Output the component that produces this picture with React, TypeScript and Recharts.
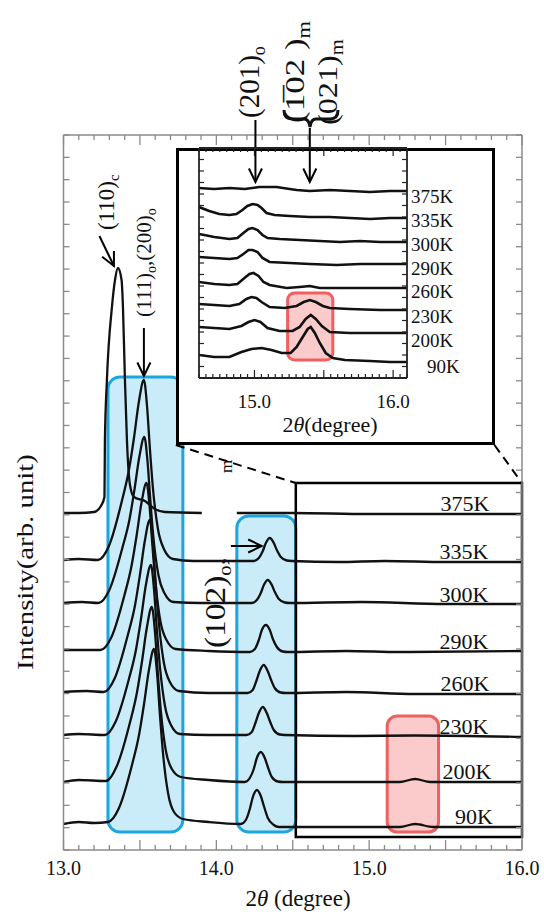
import React from 'react';
import { LineChart, Line, XAxis, YAxis, ReferenceArea, ReferenceLine } from 'recharts';

type Pt = [number, number | null];

// main panel: 2θ (degree) vs intensity (arb. unit), one trace per temperature
const temps = ['375K', '335K', '300K', '290K', '260K', '230K', '200K', '90K'];

const main375: Pt[] = [
  [13.0, 337], [13.1, 337], [13.2, 338], [13.245, 344], [13.268, 353], [13.271, 410], [13.284, 470],
  [13.317, 543], [13.337, 570], [13.356, 582], [13.38, 570], [13.389, 543], [13.402, 470], [13.415, 410],
  [13.435, 365], [13.461, 353], [13.533, 349], [13.598, 341], [13.663, 338], [13.905, 337], [13.92, null],
  [14.134, 337], [14.5, 337], [15.0, 336], [15.5, 336], [16.0, 336],
];
const main335: Pt[] = [
  [13.0, 290], [13.1, 291], [13.225, 290], [13.297, 304], [13.382, 349], [13.428, 380], [13.461, 412],
  [13.493, 448], [13.526, 470], [13.546, 445], [13.565, 402], [13.585, 362], [13.618, 321], [13.657, 301],
  [13.716, 291], [13.85, 289], [14.245, 289], [14.278, 292], [14.304, 299], [14.324, 307], [14.35, 312],
  [14.376, 307], [14.396, 300], [14.422, 293], [14.461, 289.5], [14.494, 289], [14.8, 288], [15.1, 289],
  [15.5, 288], [16.0, 288],
];
const main300: Pt[] = [
  [13.0, 247], [13.12, 248], [13.228, 247], [13.3, 260], [13.385, 302], [13.431, 330], [13.464, 360],
  [13.496, 393], [13.529, 413], [13.549, 390], [13.568, 350], [13.588, 313], [13.621, 275], [13.66, 257],
  [13.719, 248], [13.9, 247], [14.232, 247], [14.265, 250], [14.291, 257], [14.311, 265], [14.337, 270],
  [14.363, 265], [14.383, 258], [14.409, 251], [14.448, 247.5], [14.481, 247], [14.95, 248], [15.5, 246],
  [16.0, 246],
];
const main290: Pt[] = [
  [13.0, 200], [13.1, 200], [13.242, 200], [13.314, 213], [13.399, 255], [13.445, 284], [13.478, 314],
  [13.51, 347], [13.543, 367], [13.563, 344], [13.582, 304], [13.602, 267], [13.635, 228], [13.674, 210],
  [13.733, 201], [13.95, 199], [14.219, 198], [14.252, 201], [14.278, 210], [14.298, 220], [14.324, 225],
  [14.35, 220], [14.37, 211], [14.396, 203], [14.435, 198.5], [14.468, 198], [14.85, 199], [15.2, 198],
  [16.0, 199],
];
const main260: Pt[] = [
  [13.0, 158], [13.15, 159], [13.264, 158], [13.336, 172], [13.421, 215], [13.467, 244], [13.5, 275],
  [13.532, 309], [13.565, 330], [13.585, 306], [13.604, 265], [13.624, 227], [13.657, 187], [13.696, 168],
  [13.755, 159], [13.95, 157], [14.205, 157], [14.238, 160], [14.264, 170], [14.284, 179], [14.31, 185],
  [14.336, 179], [14.356, 171], [14.382, 162], [14.421, 157.5], [14.454, 157], [14.85, 158], [15.3, 156],
  [16.0, 156],
];
const main230: Pt[] = [
  [13.0, 115], [13.1, 116], [13.271, 115], [13.343, 129], [13.428, 171], [13.474, 200], [13.507, 231],
  [13.539, 265], [13.572, 285], [13.592, 261], [13.611, 220], [13.631, 183], [13.664, 144], [13.703, 125],
  [13.762, 116], [13.95, 115], [14.199, 115], [14.232, 118], [14.258, 128], [14.278, 137], [14.304, 143],
  [14.33, 137], [14.35, 129], [14.376, 120], [14.415, 115.5], [14.448, 115], [14.9, 114], [15.3, 114.5],
  [16.0, 113],
];
const main200: Pt[] = [
  [13.0, 68], [13.1, 70], [13.277, 69], [13.349, 84], [13.434, 127], [13.48, 157], [13.513, 188],
  [13.545, 222], [13.578, 243], [13.598, 219], [13.617, 177], [13.637, 139], [13.67, 99], [13.709, 81],
  [13.768, 73], [13.95, 70], [14.186, 68], [14.219, 72], [14.245, 81], [14.265, 92], [14.291, 98],
  [14.317, 92], [14.337, 83], [14.363, 73], [14.402, 68.5], [14.435, 68], [15.0, 68], [15.2, 68],
  [15.3, 71], [15.4, 68], [16.0, 68],
];
const main90: Pt[] = [
  [13.0, 26], [13.1, 28], [13.2, 27], [13.291, 28], [13.363, 42], [13.448, 85], [13.494, 115],
  [13.527, 146], [13.559, 180], [13.592, 201], [13.612, 177], [13.631, 135], [13.651, 97], [13.684, 57],
  [13.723, 38], [13.782, 31], [13.95, 28], [14.16, 26], [14.193, 30], [14.219, 41], [14.239, 53],
  [14.265, 60], [14.291, 54], [14.311, 44], [14.337, 32], [14.376, 25], [14.409, 23], [15.0, 23],
  [15.2, 23], [15.3, 26], [15.42, 23], [16.0, 23],
];

// inset: 14.6–16.1 degree
const in375: Pt[] = [
  [14.6, 190], [14.71, 189], [14.819, 190], [14.93, 189], [15.036, 191], [15.159, 191], [15.254, 189],
  [15.304, 188], [15.399, 187], [15.543, 188], [15.688, 187], [15.833, 186], [15.978, 187], [16.1, 187],
];
const in335: Pt[] = [
  [14.6, 171], [14.674, 167], [14.746, 164], [14.819, 163], [14.87, 164], [14.913, 168], [14.949, 172],
  [14.986, 174], [15.022, 173], [15.051, 170], [15.087, 165], [15.145, 163], [15.254, 162], [15.399, 161],
  [15.543, 161], [15.688, 160], [15.833, 159], [15.978, 160], [16.1, 160],
];
const in300: Pt[] = [
  [14.6, 144], [14.71, 141], [14.819, 139], [14.877, 140], [14.92, 145], [14.957, 149], [14.986, 150],
  [15.022, 148], [15.058, 143], [15.094, 140], [15.181, 139], [15.326, 138], [15.471, 137], [15.616, 136],
  [15.761, 137], [15.906, 136], [16.1, 136],
];
const in290: Pt[] = [
  [14.6, 121], [14.71, 120], [14.819, 119], [14.877, 120], [14.92, 124], [14.957, 128], [14.986, 128],
  [15.022, 126], [15.058, 120], [15.109, 116], [15.254, 115], [15.399, 114], [15.594, 113], [15.761, 114],
  [15.906, 114], [16.1, 114],
];
const in260: Pt[] = [
  [14.6, 96], [14.71, 94], [14.819, 93], [14.877, 94], [14.928, 100], [14.964, 104], [14.993, 105],
  [15.029, 102], [15.065, 96], [15.109, 93], [15.232, 90], [15.326, 91], [15.399, 92], [15.471, 90],
  [15.688, 90], [15.906, 90], [16.1, 90],
];
const in230: Pt[] = [
  [14.6, 74], [14.71, 73], [14.819, 72], [14.891, 74], [14.942, 79], [14.978, 81], [15.014, 80],
  [15.051, 76], [15.109, 71], [15.217, 70], [15.304, 72], [15.355, 76], [15.399, 78], [15.442, 76],
  [15.493, 72], [15.543, 70], [15.688, 69], [15.906, 68], [16.1, 68],
];
const in200: Pt[] = [
  [14.6, 51], [14.71, 50], [14.819, 49], [14.906, 52], [14.957, 56], [15.0, 58], [15.043, 56],
  [15.094, 50], [15.181, 47], [15.275, 47], [15.326, 51], [15.369, 59], [15.406, 63], [15.442, 59],
  [15.486, 52], [15.543, 46], [15.688, 45], [15.906, 45], [16.1, 45],
];
const in90: Pt[] = [
  [14.6, 23], [14.71, 21], [14.819, 21], [14.906, 26], [14.978, 29], [15.051, 30], [15.123, 28],
  [15.196, 25], [15.261, 25], [15.304, 31], [15.348, 41], [15.384, 49], [15.406, 51], [15.435, 45],
  [15.471, 35], [15.514, 25], [15.565, 20], [15.652, 18], [15.833, 17], [15.978, 16], [16.1, 16],
];

const mainSeries = [main375, main335, main300, main290, main260, main230, main200, main90];
const insetSeries = [in375, in335, in300, in290, in260, in230, in200, in90];

const mainXTicks = Array.from({ length: 31 }, (_, i) => Math.round((13 + i * 0.1) * 10) / 10);
const mainYTicks = Array.from({ length: 33 }, (_, i) => (i * 715) / 32);
const insetXTicks = Array.from({ length: 31 }, (_, i) => Math.round((14.6 + i * 0.05) * 100) / 100);
const insetYTicks = Array.from({ length: 21 }, (_, i) => i * 11.5);

// layout (page px)
const FONT = '"Liberation Serif", "Times New Roman", serif';
const TXT = { fontFamily: FONT };
const GRAY = '#8a8a8a';
const MAIN = { l: 63.5, r: 522, t: 135, b: 850 };
const INS = { l: 199, r: 407, t: 148, b: 378 };
const mainLabelPos = [[465, 511], [464, 559], [464, 602], [464, 649], [465, 691], [464, 734], [467, 779], [474, 824]];
const insetLabelPos = [[411, 203], [411, 227], [411, 251], [411, 275], [411, 298], [411, 323], [411, 347], [427, 373]];

const rows = (pts: Pt[]) => pts.map(([x, y]) => ({ x, y }));
const isMult = (v: number, step: number) => Math.abs(v / step - Math.round(v / step)) < 1e-6;

const mainBottomTick = (p: any) => {
  const v = p.payload.value;
  return (
    <g>
      <line x1={p.x} x2={p.x} y1={MAIN.b} y2={MAIN.b - (isMult(v, 0.5) ? 10 : 5)} stroke={GRAY} strokeWidth={1.3} />
      {isMult(v, 1) && (
        <text x={p.x} y={875} textAnchor="middle" fontSize={20} style={TXT} fill="#111">{v.toFixed(1)}</text>
      )}
    </g>
  );
};
const mainTopTick = (p: any) => (
  <line x1={p.x} x2={p.x} y1={MAIN.t} y2={MAIN.t + (isMult(p.payload.value, 0.5) ? 10 : 5)} stroke={GRAY} strokeWidth={1.3} />
);
const mainLeftTick = (p: any) => <line x1={MAIN.l} x2={MAIN.l + 6} y1={p.y} y2={p.y} stroke={GRAY} strokeWidth={1.3} />;
const mainRightTick = (p: any) => <line x1={MAIN.r} x2={MAIN.r - 6} y1={p.y} y2={p.y} stroke={GRAY} strokeWidth={1.3} />;

const insBottomTick = (p: any) => {
  const v = p.payload.value;
  return (
    <g>
      <line x1={p.x} x2={p.x} y1={INS.b} y2={INS.b - (isMult(v, 0.5) ? 8 : 4)} stroke="#222" strokeWidth={1.2} />
      {isMult(v, 1) && (
        <text x={p.x} y={408} textAnchor="middle" fontSize={19} style={TXT} fill="#111">{v.toFixed(1)}</text>
      )}
    </g>
  );
};
const insTopTick = (p: any) => (
  <line x1={p.x} x2={p.x} y1={INS.t} y2={INS.t + (isMult(p.payload.value, 0.5) ? 8 : 4)} stroke="#222" strokeWidth={1.2} />
);
const insLeftTick = (p: any) => <line x1={INS.l} x2={INS.l + 5} y1={p.y} y2={p.y} stroke="#222" strokeWidth={1.2} />;
const insRightTick = (p: any) => <line x1={INS.r} x2={INS.r - 5} y1={p.y} y2={p.y} stroke="#222" strokeWidth={1.2} />;

const arrowShape = (p: any) => {
  const { x1, y1, x2, y2 } = p;
  const a = Math.atan2(y2 - y1, x2 - x1);
  const len = 15;
  const s = 0.45;
  const l = `${x2 - len * Math.cos(a - s)},${y2 - len * Math.sin(a - s)}`;
  const r = `${x2 - len * Math.cos(a + s)},${y2 - len * Math.sin(a + s)}`;
  return (
    <g>
      <line x1={x1} y1={y1} x2={x2} y2={y2} stroke="#000" strokeWidth={2} />
      <polyline points={`${l} ${x2},${y2} ${r}`} fill="none" stroke="#000" strokeWidth={2} />
    </g>
  );
};

const roundBox = (stroke: string, fill: string, rx: number) => (p: any) => (
  <rect x={p.x} y={p.y} width={p.width} height={p.height} rx={rx} fill={fill} stroke={stroke} strokeWidth={3} />
);

// rotated (reading upward) label, (x, y) = start of baseline
const VText = ({ x, y, size, sx = 1, children }: any) => (
  <text transform={`translate(${x},${y}) rotate(-90) scale(${sx},1)`} fontSize={size} style={TXT} fill="#111">
    {children}
  </text>
);
const Sub = ({ children, size, d }: any) => (
  <tspan fontSize={size} dy={d}>{children}</tspan>
);

const App: React.FC = () => {
  return (
    <div style={{ position: 'absolute', left: 0, top: 0, width: 544, height: 912 }}>
      <div style={{ position: 'absolute', left: 0, top: 0 }}>
        <LineChart width={544} height={912} margin={{ top: MAIN.t - 1, right: 544 - MAIN.r - 1, bottom: 912 - MAIN.b - 1, left: MAIN.l - 1 }}>
          <XAxis dataKey="x" type="number" domain={[13, 16]} allowDataOverflow ticks={mainXTicks} interval={0}
            height={1} tickSize={0} tickMargin={0} tickLine={false} axisLine={{ stroke: GRAY, strokeWidth: 1.5 }} tick={mainBottomTick} />
          <XAxis xAxisId="top" orientation="top" dataKey="x" type="number" domain={[13, 16]} allowDataOverflow ticks={mainXTicks} interval={0}
            height={1} tickSize={0} tickMargin={0} tickLine={false} axisLine={{ stroke: GRAY, strokeWidth: 1.5 }} tick={mainTopTick} />
          <YAxis type="number" domain={[0, 715]} allowDataOverflow ticks={mainYTicks} interval={0}
            width={1} tickSize={0} tickMargin={0} tickLine={false} axisLine={{ stroke: GRAY, strokeWidth: 1.5 }} tick={mainLeftTick} />
          <YAxis yAxisId="right" orientation="right" type="number" domain={[0, 715]} allowDataOverflow ticks={mainYTicks} interval={0}
            width={1} tickSize={0} tickMargin={0} tickLine={false} axisLine={{ stroke: GRAY, strokeWidth: 1.5 }} tick={mainRightTick} />

          <ReferenceArea x1={13.291} x2={13.781} y1={18} y2={473} ifOverflow="visible" shape={roundBox('#1ca6e0', '#c9ecf8', 12)} />
          <ReferenceArea x1={14.134} x2={14.52} y1={18} y2={334} ifOverflow="visible" shape={roundBox('#1ca6e0', '#c9ecf8', 12)} />
          <ReferenceArea x1={15.118} x2={15.454} y1={18} y2={134} ifOverflow="visible" shape={roundBox('#f0605f', '#fbcaca', 10)} />
          <ReferenceArea x1={14.52} x2={16.0} y1={13} y2={367} ifOverflow="visible" fill="none" fillOpacity={0} stroke="#000" strokeWidth={2.5} />

          {mainSeries.map((s, i) => (
            <Line key={temps[i]} data={rows(s)} dataKey="y" type="monotone" stroke="#111" strokeWidth={2.3}
              dot={false} activeDot={false} connectNulls={false} isAnimationActive={false} />
          ))}

          <ReferenceLine segment={[{ x: 13.735, y: 405 }, { x: 14.52, y: 367 }]} ifOverflow="visible" stroke="#000" strokeWidth={2} strokeDasharray="9 6" />
          <ReferenceLine segment={[{ x: 15.82, y: 405 }, { x: 16.0, y: 367 }]} ifOverflow="visible" stroke="#000" strokeWidth={2} strokeDasharray="9 6" />
          <ReferenceLine segment={[{ x: 13.235, y: 614 }, { x: 13.33, y: 584 }]} ifOverflow="visible" shape={arrowShape} />
          <ReferenceLine segment={[{ x: 13.526, y: 522 }, { x: 13.526, y: 474 }]} ifOverflow="visible" shape={arrowShape} />
          <ReferenceLine segment={[{ x: 14.095, y: 304 }, { x: 14.297, y: 304 }]} ifOverflow="visible" shape={arrowShape} />
        </LineChart>
      </div>

      <div style={{ position: 'absolute', left: 176, top: 148, width: 319, height: 297, border: '3px solid #000', boxSizing: 'border-box', background: '#fff' }} />

      <div style={{ position: 'absolute', left: 0, top: 0 }}>
        <LineChart width={544} height={460} margin={{ top: INS.t - 1, right: 544 - INS.r - 1, bottom: 460 - INS.b - 1, left: INS.l - 1 }}>
          <XAxis dataKey="x" type="number" domain={[14.6, 16.1]} allowDataOverflow ticks={insetXTicks} interval={0}
            height={1} tickSize={0} tickMargin={0} tickLine={false} axisLine={{ stroke: '#222', strokeWidth: 1.8 }} tick={insBottomTick} />
          <XAxis xAxisId="top" orientation="top" dataKey="x" type="number" domain={[14.6, 16.1]} allowDataOverflow ticks={insetXTicks} interval={0}
            height={1} tickSize={0} tickMargin={0} tickLine={false} axisLine={{ stroke: '#222', strokeWidth: 1.8 }} tick={insTopTick} />
          <YAxis type="number" domain={[0, 230]} allowDataOverflow ticks={insetYTicks} interval={0}
            width={1} tickSize={0} tickMargin={0} tickLine={false} axisLine={{ stroke: '#222', strokeWidth: 1.8 }} tick={insLeftTick} />
          <YAxis yAxisId="right" orientation="right" type="number" domain={[0, 230]} allowDataOverflow ticks={insetYTicks} interval={0}
            width={1} tickSize={0} tickMargin={0} tickLine={false} axisLine={{ stroke: '#222', strokeWidth: 1.8 }} tick={insRightTick} />

          <ReferenceArea x1={15.239} x2={15.565} y1={18} y2={85} ifOverflow="visible" shape={roundBox('#f0605f', '#fbcaca', 7)} />

          {insetSeries.map((s, i) => (
            <Line key={temps[i]} data={rows(s)} dataKey="y" type="linear" stroke="#111" strokeWidth={2.6}
              dot={false} activeDot={false} isAnimationActive={false} />
          ))}

          <ReferenceLine segment={[{ x: 15.007, y: 258 }, { x: 15.007, y: 196 }]} ifOverflow="visible" shape={arrowShape} />
          <ReferenceLine segment={[{ x: 15.399, y: 250 }, { x: 15.399, y: 196 }]} ifOverflow="visible" shape={arrowShape} />
        </LineChart>
      </div>

      <svg width={544} height={912} style={{ position: 'absolute', left: 0, top: 0, pointerEvents: 'none' }}>
        {temps.map((t, i) => (
          <text key={'m' + t} x={mainLabelPos[i][0]} y={mainLabelPos[i][1]} textAnchor="middle" fontSize={22} style={TXT} fill="#111">{t}</text>
        ))}
        {temps.map((t, i) => (
          <text key={'i' + t} x={insetLabelPos[i][0]} y={insetLabelPos[i][1]} fontSize={19} style={TXT} fill="#111">{t}</text>
        ))}

        <text x={298} y={906} textAnchor="middle" fontSize={23} style={TXT} fill="#111">
          2<tspan fontStyle="italic">θ</tspan> (degree)
        </text>
        <text x={330} y={432} textAnchor="middle" fontSize={22} style={TXT} fill="#111">
          2<tspan fontStyle="italic">θ</tspan>(degree)
        </text>

        <VText x={33} y={670} size={24} sx={1.2}>Intensity(arb. unit)</VText>

        <VText x={114} y={230} size={23}>(110)<Sub size={15} d={5}>c</Sub></VText>
        <VText x={151} y={317} size={21}>
          (111)<Sub size={14} d={5}>o</Sub><tspan dy={-5}>,(200)</tspan><Sub size={14} d={5}>o</Sub>
        </VText>
        <VText x={259} y={118} size={29}>(201)<Sub size={18} d={6}>o</Sub></VText>
        <VText x={304} y={123} size={28} sx={1.25}>(1&#x0305;02 )<Sub size={18} d={6}>m</Sub></VText>
        <VText x={337} y={125} size={28} sx={1.15}>(021)<Sub size={18} d={6}>m</Sub></VText>
        <VText x={225} y={648} size={29} sx={1.15}>(102)<Sub size={18} d={6}>o</Sub><tspan dy={-6}>,</tspan></VText>
        <VText x={232} y={473} size={17}>m</VText>

        <path d="M284,110 Q284,119 292,119 L304,119 Q309,119 310,127 Q311,119 316,119 L330,119 Q338,119 338,110"
          fill="none" stroke="#111" strokeWidth={3} />
      </svg>
    </div>
  );
};

export default App;
